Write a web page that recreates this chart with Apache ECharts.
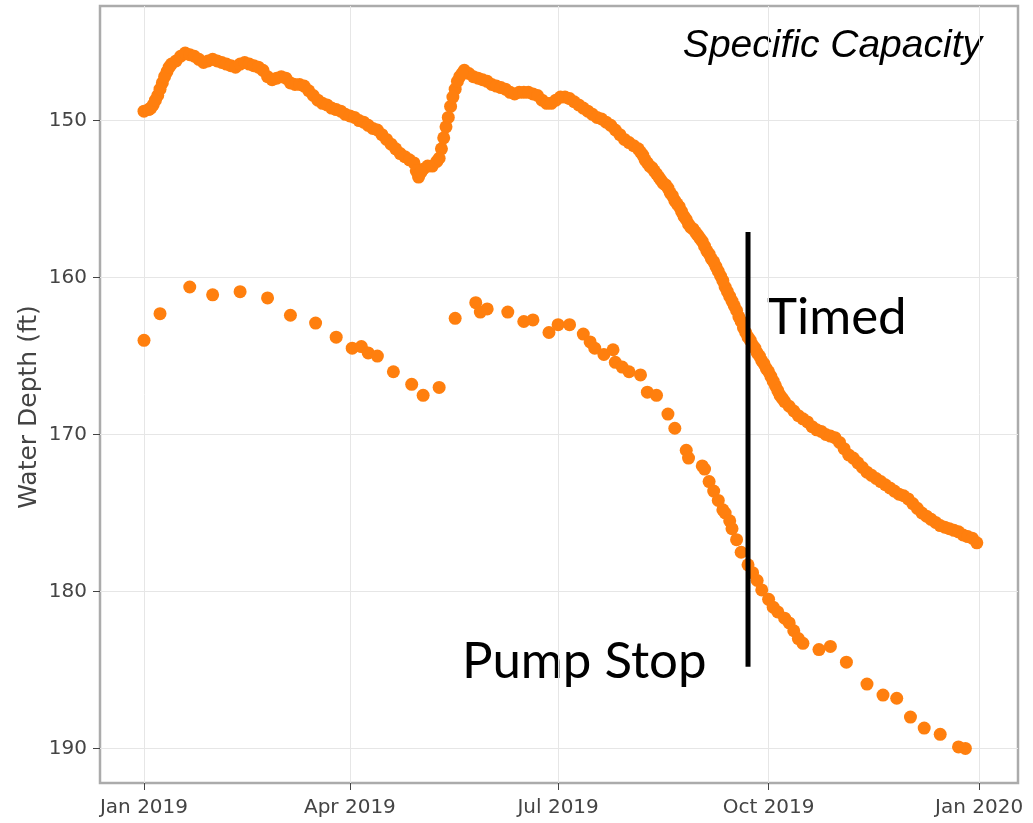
<!DOCTYPE html>
<html>
<head>
<meta charset="utf-8">
<title>Specific Capacity</title>
<script src="https://cdn.jsdelivr.net/npm/echarts@6/dist/echarts.min.js"></script>
<style>
    html, body { margin: 0; padding: 0; background: #ffffff; }
    #chart-container { width: 1033px; height: 823px; }
</style>
</head>
<body>
<div id="chart-container"></div>
<script>
// timed readings, one every 2 days starting upperStart
const upperStart = '2019-01-01';
const upperStepDays = 2;
const upperDepths = [
    149.4, 149.3, 149.0, 148.4, 147.6, 146.9, 146.4, 146.2, 145.9, 145.7,
    145.8, 145.9, 146.1, 146.3, 146.2, 146.1, 146.2, 146.3, 146.4, 146.5,
    146.6, 146.4, 146.3, 146.4, 146.5, 146.6, 146.8, 147.2, 147.4, 147.3,
    147.2, 147.3, 147.6, 147.7, 147.7, 147.8, 148.1, 148.4, 148.7, 148.9,
    149.0, 149.2, 149.3, 149.4, 149.6, 149.7, 149.8, 150.0, 150.1, 150.3,
    150.5, 150.6, 150.9, 151.2, 151.5, 151.8, 152.1, 152.3, 152.5, 152.7,
    153.6, 153.1, 152.9, 152.9, 152.6, 151.8, 150.4, 149.1, 148.0, 147.2,
    146.8, 147.0, 147.2, 147.3, 147.4, 147.5, 147.7, 147.8, 147.9, 148.0,
    148.2, 148.3, 148.2, 148.2, 148.2, 148.3, 148.4, 148.7, 148.9, 148.9,
    148.7, 148.5, 148.5, 148.6, 148.8, 149.0, 149.2, 149.4, 149.6, 149.8,
    149.9, 150.1, 150.3, 150.6, 150.9, 151.2, 151.4, 151.6, 151.8, 152.2,
    152.7, 153.0, 153.4, 153.8, 154.1, 154.6, 155.1, 155.5, 156.1, 156.6,
    156.9, 157.3, 157.7, 158.3, 158.8, 159.3, 159.9, 160.6, 161.2, 161.8,
    162.5, 163.2, 163.8, 164.3, 164.8, 165.3, 165.8, 166.3, 166.9, 167.5,
    167.9, 168.2, 168.5, 168.8, 169.0, 169.2, 169.5, 169.7, 169.8, 170.0,
    170.1, 170.2, 170.5, 170.9, 171.3, 171.5, 171.8, 172.1, 172.4, 172.6,
    172.8, 173.0, 173.2, 173.4, 173.6, 173.8, 173.9, 174.1, 174.4, 174.7,
    175.0, 175.2, 175.4, 175.6, 175.8, 175.9, 176.0, 176.1, 176.2, 176.4,
    176.5, 176.6, 176.9
];

// extra timed readings in between, on the steep stretches
const upperExtraDates = [
    '2019-01-04', '2019-01-06', '2019-01-08', '2019-01-10', '2019-01-12',
    '2019-04-30', '2019-05-02',
    '2019-05-10', '2019-05-12', '2019-05-14', '2019-05-16', '2019-05-18', '2019-05-20',
    '2019-08-06', '2019-08-08', '2019-08-10', '2019-08-12', '2019-08-14', '2019-08-16',
    '2019-08-18', '2019-08-20', '2019-08-22', '2019-08-24', '2019-08-26', '2019-08-28',
    '2019-08-30', '2019-09-01', '2019-09-03', '2019-09-05', '2019-09-07', '2019-09-09',
    '2019-09-11', '2019-09-13', '2019-09-15', '2019-09-17', '2019-09-19', '2019-09-21',
    '2019-09-23', '2019-09-25', '2019-09-27', '2019-09-29', '2019-10-01', '2019-10-03',
    '2019-10-05', '2019-10-07'
];
const upperExtraDepths = [
    149.2, 148.7, 148.0, 147.2, 146.6,
    153.2, 153.3,
    152.4, 151.1, 149.8, 148.5, 147.5, 147.0,
    152.0, 152.5, 152.9, 153.2, 153.6, 154.0,
    154.3, 154.8, 155.3, 155.8, 156.3, 156.8,
    157.1, 157.5, 158.0, 158.5, 159.0, 159.6,
    160.2, 160.9, 161.5, 162.1, 162.8, 163.5,
    164.0, 164.5, 165.0, 165.5, 166.0, 166.6,
    167.2, 167.7
];

// pump stop readings
const stopDates = [
    '2019-01-01', '2019-01-08', '2019-01-21', '2019-01-31', '2019-02-12', '2019-02-24',
    '2019-03-06', '2019-03-17', '2019-03-26', '2019-04-02', '2019-04-06', '2019-04-09',
    '2019-04-13', '2019-04-20', '2019-04-28', '2019-05-03', '2019-05-10', '2019-05-17',
    '2019-05-26', '2019-05-28', '2019-05-31', '2019-06-09', '2019-06-16', '2019-06-20',
    '2019-06-27', '2019-07-01', '2019-07-06', '2019-07-12', '2019-07-15', '2019-07-17',
    '2019-07-21', '2019-07-25', '2019-07-26', '2019-07-29', '2019-08-01', '2019-08-06',
    '2019-08-09', '2019-08-13', '2019-08-18', '2019-08-21', '2019-08-26', '2019-08-27',
    '2019-09-02', '2019-09-03', '2019-09-05', '2019-09-07', '2019-09-09', '2019-09-11',
    '2019-09-12', '2019-09-14', '2019-09-15', '2019-09-17', '2019-09-19', '2019-09-22',
    '2019-09-24', '2019-09-26', '2019-09-28', '2019-10-01', '2019-10-03', '2019-10-05',
    '2019-10-08', '2019-10-10', '2019-10-12', '2019-10-14', '2019-10-16', '2019-10-23',
    '2019-10-28', '2019-11-04', '2019-11-13', '2019-11-20', '2019-11-26', '2019-12-02',
    '2019-12-08', '2019-12-15', '2019-12-23', '2019-12-26'
];
const stopDepths = [
    164.0, 162.3, 160.6, 161.1, 160.9, 161.3,
    162.4, 162.9, 163.8, 164.5, 164.4, 164.8,
    165.0, 166.0, 166.8, 167.5, 167.0, 162.6,
    161.6, 162.2, 162.0, 162.2, 162.8, 162.7,
    163.5, 163.0, 163.0, 163.6, 164.1, 164.5,
    164.9, 164.6, 165.4, 165.7, 166.0, 166.2,
    167.3, 167.5, 168.7, 169.6, 171.0, 171.5,
    172.0, 172.2, 173.0, 173.6, 174.2, 174.8,
    175.0, 175.5, 176.0, 176.7, 177.5, 178.3,
    178.8, 179.3, 179.9, 180.5, 181.0, 181.3,
    181.7, 182.0, 182.5, 183.0, 183.3, 183.7,
    183.5, 184.5, 185.9, 186.6, 186.8, 188.0,
    188.7, 189.1, 189.9, 190.0
];

// vertical divider drawn between the two labels
const dividerDates = ['2019-09-22', '2019-09-22'];
const dividerDepths = [157.1, 184.8];

const tickDates = ['2019-01-01', '2019-04-01', '2019-07-01', '2019-10-01', '2020-01-01'];
const tickLabels = ['Jan 2019', 'Apr 2019', 'Jul 2019', 'Oct 2019', 'Jan 2020'];
const depthTicks = [150, 160, 170, 180, 190];

const ORANGE = '#ff7f0e';
const DAY = 86400000;

const parseDay = (s) => {
    const p = s.split('-').map(Number);
    return new Date(p[0], p[1] - 1, p[2]).getTime();
};

const drawChart = () => {
    const chartContainer = document.getElementById('chart-container');
    const myChart = echarts.init(chartContainer);

    const startParts = upperStart.split('-').map(Number);
    const upperData = upperDepths.map((v, i) => [
        new Date(startParts[0], startParts[1] - 1, startParts[2] + i * upperStepDays).getTime(),
        v
    ]);
    upperExtraDates.forEach((d, i) => {
        upperData.push([parseDay(d), upperExtraDepths[i]]);
    });
    const stopData = stopDates.map((d, i) => [parseDay(d), stopDepths[i]]);
    const dividerData = dividerDates.map((d, i) => [parseDay(d), dividerDepths[i]]);
    const tickValues = tickDates.map(parseDay);

    const options = {
        backgroundColor: '#ffffff',
        animation: false,
        grid: {
            left: 100,
            top: 6,
            width: 918,
            height: 777,
            show: true,
            borderColor: '#ababab',
            borderWidth: 2.5,
            backgroundColor: 'transparent'
        },
        xAxis: {
            // dates as millisecond values so the tick positions can be given exactly
            type: 'value',
            min: parseDay('2018-12-12') + 0.77 * DAY,
            max: parseDay('2020-01-18'),
            axisLine: { show: false },
            axisTick: {
                show: true,
                length: 7,
                customValues: tickValues,
                lineStyle: { color: '#444', width: 1 }
            },
            axisLabel: {
                customValues: tickValues,
                margin: 15,
                color: '#444',
                fontFamily: 'DejaVu Sans',
                fontSize: 20,
                formatter: function (value) {
                    const i = tickValues.indexOf(value);
                    return i >= 0 ? tickLabels[i] : '';
                }
            },
            splitLine: {
                show: true,
                lineStyle: { color: '#e6e6e6', width: 1 }
            }
        },
        yAxis: {
            type: 'value',
            inverse: true,
            min: 142.7,
            max: 192.2,
            axisLine: { show: false },
            axisTick: {
                show: true,
                length: 7,
                customValues: depthTicks,
                lineStyle: { color: '#444', width: 1 }
            },
            axisLabel: {
                customValues: depthTicks,
                margin: 13,
                color: '#444',
                fontFamily: 'DejaVu Sans',
                fontSize: 20
            },
            splitLine: {
                show: true,
                lineStyle: { color: '#e6e6e6', width: 1 }
            }
        },
        series: [
            {
                name: 'Timed',
                type: 'scatter',
                symbolSize: 13,
                itemStyle: { color: ORANGE, opacity: 1 },
                data: upperData,
                z: 2
            },
            {
                name: 'Pump Stop',
                type: 'scatter',
                symbolSize: 13,
                itemStyle: { color: ORANGE, opacity: 1 },
                data: stopData,
                z: 2
            },
            {
                name: 'divider',
                type: 'line',
                symbol: 'none',
                lineStyle: { color: '#000000', width: 5 },
                data: dividerData,
                z: 5
            }
        ],
        graphic: [
            {
                type: 'text',
                x: 982,
                y: 46,
                style: {
                    text: 'Specific Capacity',
                    fontFamily: 'Liberation Sans',
                    fontStyle: 'italic',
                    fontSize: 39,
                    fill: '#000',
                    align: 'right',
                    verticalAlign: 'middle'
                }
            },
            {
                type: 'text',
                x: 767,
                y: 318,
                style: {
                    text: 'Timed',
                    fontFamily: 'Lato',
                    fontSize: 51,
                    fill: '#000',
                    align: 'left',
                    verticalAlign: 'middle'
                }
            },
            {
                type: 'text',
                x: 462,
                y: 662,
                style: {
                    text: 'Pump Stop',
                    fontFamily: 'Lato',
                    fontSize: 51,
                    fill: '#000',
                    align: 'left',
                    verticalAlign: 'middle'
                }
            },
            {
                type: 'text',
                x: 29,
                y: 407,
                rotation: Math.PI / 2,
                style: {
                    text: 'Water Depth (ft)',
                    fontFamily: 'DejaVu Sans',
                    fontSize: 25,
                    fill: '#444',
                    align: 'center',
                    verticalAlign: 'middle'
                }
            }
        ]
    };

    myChart.setOption(options);
};

drawChart();
</script>
</body>
</html>
